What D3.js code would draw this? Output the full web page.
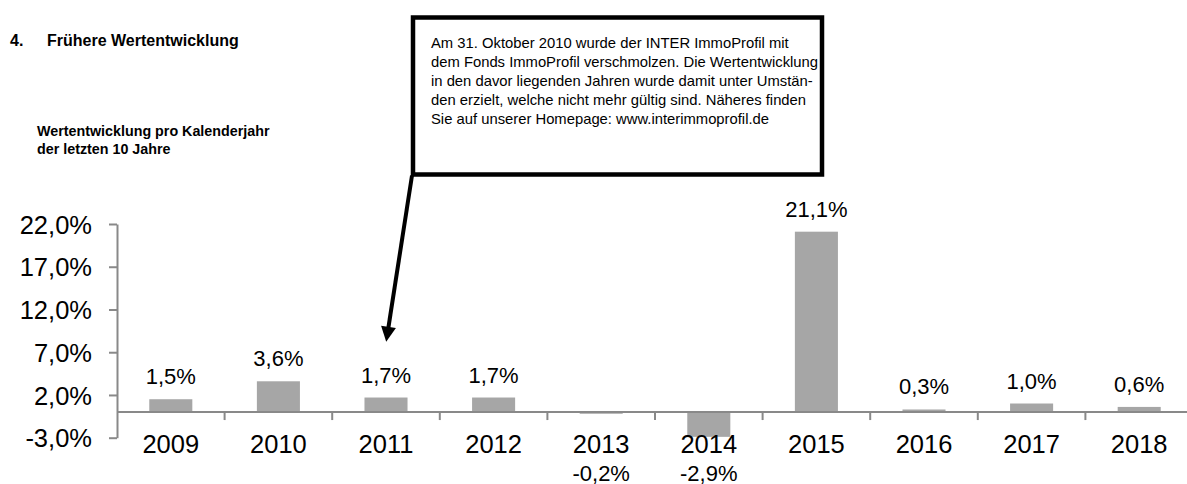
<!DOCTYPE html>
<html><head><meta charset="utf-8">
<script src="https://cdn.jsdelivr.net/npm/d3@7"></script>
<style>
body{margin:0;background:#fff}
svg{display:block;font-family:"Liberation Sans",Arial,Helvetica,sans-serif}
</style>
</head><body>
<svg id="chart" width="1187" height="484"></svg>
<script>
// ---- data ----
const years = ["2009","2010","2011","2012","2013","2014","2015","2016","2017","2018"];
const values = [1.5, 3.6, 1.7, 1.7, -0.2, -2.9, 21.1, 0.3, 1.0, 0.6];
const yTicks = [-3, 2, 7, 12, 17, 22];
const sectionNumber = "4.";
const sectionTitle = "Frühere Wertentwicklung";
const subtitleLines = ["Wertentwicklung pro Kalenderjahr", "der letzten 10 Jahre"];
const noteLines = [
  "Am 31. Oktober 2010 wurde der INTER ImmoProfil mit",
  "dem Fonds ImmoProfil verschmolzen. Die Wertentwicklung",
  "in den davor liegenden Jahren wurde damit unter Umstän-",
  "den erzielt, welche nicht mehr gültig sind. Näheres finden",
  "Sie auf unserer Homepage: www.interimmoprofil.de"
];

// ---- setup ----
const svg = d3.select("#chart");
const de = d3.formatLocale({decimal: ",", thousands: ".", grouping: [3], currency: ["", " €"], minus: "-"});
const f1 = de.format(".1f");
const pct = v => f1(v) + "%";

const axisColor = "#898989";
const barColor = "#a6a6a6";

const x = d3.scaleBand().domain(years).range([117, 1193]).paddingInner(0.6).paddingOuter(0.3);
const y = d3.scaleLinear().domain([-3, 22]).range([437.7, 224]);
const y0 = y(0);

// ---- headings ----
svg.append("text").attr("x", 10).attr("y", 46)
  .attr("font-size", 16).attr("font-weight", "bold").attr("fill", "#000").text(sectionNumber);
svg.append("text").attr("x", 47).attr("y", 46)
  .attr("font-size", 16).attr("font-weight", "bold").attr("fill", "#000").text(sectionTitle);
svg.append("g").selectAll("text").data(subtitleLines).join("text")
  .attr("x", 37).attr("y", (d, i) => 135.5 + i * 18.5)
  .attr("font-size", 14.3).attr("font-weight", "bold").attr("fill", "#000").text(d => d);

// ---- y axis ----
const yAxis = d3.axisLeft(y).tickValues(yTicks).tickSize(8).tickSizeOuter(0).tickPadding(17)
  .tickFormat(pct);
const gy = svg.append("g").attr("transform", "translate(117,0)").call(yAxis);
gy.select(".domain").attr("stroke", axisColor).attr("stroke-width", 2);
gy.selectAll(".tick line").attr("stroke", axisColor).attr("stroke-width", 2);
gy.selectAll(".tick text").attr("font-size", 25.5).attr("fill", "#000")
  .attr("font-family", '"Liberation Sans",Arial,sans-serif').attr("dy", "0.36em");

// ---- bars ----
svg.append("g").selectAll("rect").data(values).join("rect")
  .attr("x", (d, i) => x(years[i]))
  .attr("width", x.bandwidth())
  .attr("y", d => y(Math.max(0, d)))
  .attr("height", d => Math.abs(y(d) - y0))
  .attr("fill", barColor);

// ---- x axis (zero line) ----
svg.append("line").attr("x1", 117).attr("x2", 1187).attr("y1", y0).attr("y2", y0)
  .attr("stroke", axisColor).attr("stroke-width", 2);
const step = x.step();
const bounds = d3.range(1, years.length).map(i => x.range()[0] + i * step);
svg.append("g").selectAll("line").data(bounds).join("line")
  .attr("x1", d => d).attr("x2", d => d).attr("y1", y0).attr("y2", y0 + 8)
  .attr("stroke", axisColor).attr("stroke-width", 2);
svg.append("g").selectAll("text").data(years).join("text")
  .attr("x", d => x(d) + x.bandwidth() / 2).attr("y", 453.3)
  .attr("text-anchor", "middle").attr("font-size", 25.5).attr("fill", "#000").text(d => d);

// ---- value labels ----
svg.append("g").selectAll("text").data(values).join("text")
  .attr("x", (d, i) => x(years[i]) + x.bandwidth() / 2)
  .attr("y", d => d >= 0 ? y(d) - 15 : 480.5)
  .attr("text-anchor", "middle").attr("font-size", 22).attr("fill", "#000")
  .text(d => pct(d));

// ---- note box with arrow ----
const box = {x0: 413, y0: 17.5, x1: 822, y1: 174.5};
svg.append("rect").attr("x", box.x0).attr("y", box.y0)
  .attr("width", box.x1 - box.x0).attr("height", box.y1 - box.y0)
  .attr("fill", "#fff").attr("stroke", "#000").attr("stroke-width", 4.5);
svg.append("g").selectAll("text").data(noteLines).join("text")
  .attr("x", 431).attr("y", (d, i) => 48 + i * 19)
  .attr("font-size", 14.8).attr("fill", "#000").text(d => d);

const a0 = [box.x0 - 1, box.y1 + 1], tip = [386.2, 341.7];
const dx = tip[0] - a0[0], dy = tip[1] - a0[1], len = Math.hypot(dx, dy);
const ux = dx / len, uy = dy / len, px = -uy, py = ux;
const hl = 15, hw = 7.5;
const base = [tip[0] - ux * hl, tip[1] - uy * hl];
svg.append("line").attr("x1", a0[0]).attr("y1", a0[1]).attr("x2", base[0] + ux * 2).attr("y2", base[1] + uy * 2)
  .attr("stroke", "#000").attr("stroke-width", 4);
svg.append("path")
  .attr("d", `M${tip[0]},${tip[1]}L${base[0] + px * hw},${base[1] + py * hw}L${base[0] - px * hw},${base[1] - py * hw}Z`)
  .attr("fill", "#000");
</script>
</body></html>
